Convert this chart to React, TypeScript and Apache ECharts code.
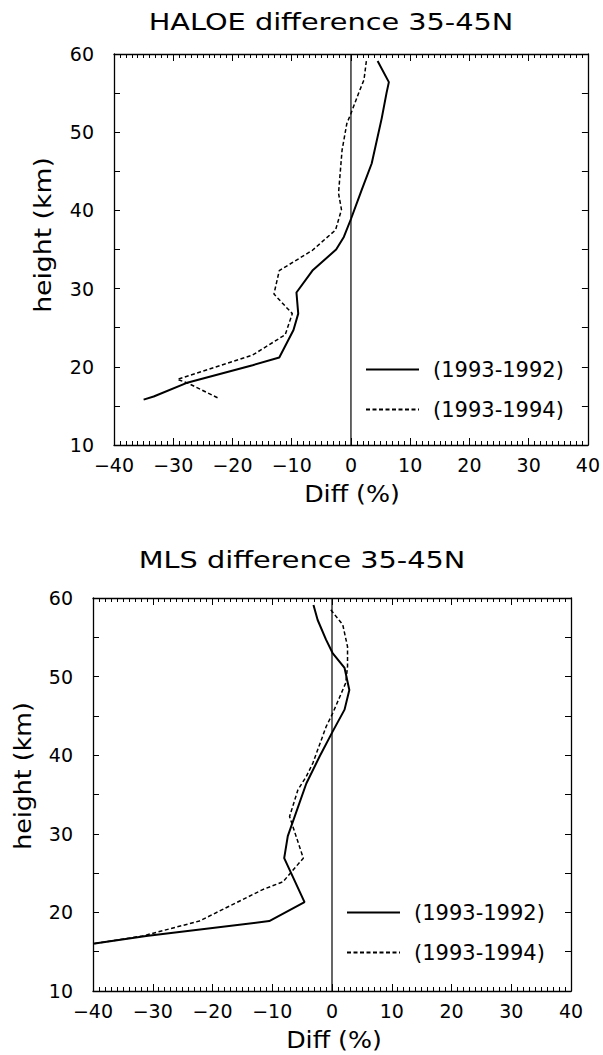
import React, { useEffect, useRef } from "react";
import * as echarts from "echarts";

// ---- data ----
const xTicks = [-40, -30, -20, -10, 0, 10, 20, 30, 40];
const heightTicks = [10, 20, 30, 40, 50, 60];
const seriesNames = ["(1993-1992)", "(1993-1994)"];
const titles = ["HALOE difference 35-45N", "MLS difference 35-45N"];
const xName = "Diff (%)";
const yName = "height (km)";

// HALOE, 1993-1992
const haloeDiffA = [4.5, 6.4, 6.0, 5.2, 3.5, 1.8, 0, -1.2, -2.5, -6.5, -9.2, -8.9, -9.7, -12.1, -16.6, -27.5, -33.3, -35.0];
const haloeHgtA = [59.1, 56.4, 55.0, 51.8, 46.0, 42.6, 38.9, 36.6, 35.0, 32.3, 29.5, 26.8, 24.7, 21.2, 20.2, 18.0, 16.2, 15.8];
// HALOE, 1993-1994
const haloeDiffB = [2.6, 2.2, 1.3, 0, -0.7, -1.5, -2.1, -1.6, -2.6, -3.2, -6.5, -12.1, -13.0, -9.9, -11.1, -16.6, -29.3, -27.5, -22.4];
const haloeHgtB = [59.1, 56.7, 55.0, 52.4, 51.1, 47.7, 42.2, 40.1, 37.5, 37.1, 34.9, 32.3, 29.3, 26.8, 24.1, 21.5, 18.4, 17.9, 16.0];
// MLS, 1993-1992
const mlsDiffA = [-3.1, -2.4, -1.0, 0.1, 2.1, 2.9, 2.1, 0.1, -2.1, -4.3, -7.4, -8.0, -4.6, -10.5, -31.1, -40.0];
const mlsHgtA = [59.1, 57.2, 54.7, 53.0, 51.1, 48.3, 45.8, 43.0, 39.8, 36.4, 29.7, 26.9, 21.3, 18.9, 17.0, 16.0];
// MLS, 1993-1994
const mlsDiffB = [-0.2, 1.8, 2.6, 2.6, 2.3, 0.1, -1.0, -3.2, -4.3, -5.7, -7.1, -4.8, -8.2, -11.6, -22.2, -31.7, -40.0];
const mlsHgtB = [58.5, 56.6, 53.8, 51.3, 49.2, 45.3, 43.6, 39.0, 37.3, 35.6, 32.2, 26.9, 23.9, 22.9, 18.9, 17.0, 16.0];
// zero reference line
const zeroDiff = [0, 0];
const zeroHgt = [10, 60];

const FONT = "DejaVu Sans";
const pairs = (xs: number[], ys: number[]) => xs.map((v, i) => [v, ys[i]]);
const minusFmt = (v: number) => (v < 0 ? "\u2212" + Math.abs(v) : String(v));

export default function App() {
  const ref = useRef<HTMLDivElement>(null);
  useEffect(() => {
    if (!ref.current) return;
    const chart = echarts.init(ref.current, null, { renderer: "svg", width: 603, height: 1055 });

    const grids = [
      { left: 114, top: 54, width: 478, height: 391 },
      { left: 93, top: 598, width: 478, height: 393 },
    ];
    const lineAxis = { show: true, onZero: false, lineStyle: { color: "#000", width: 1.3 } };
    const xMin = xTicks[0], xMax = xTicks[xTicks.length - 1];
    const yMin = heightTicks[0], yMax = heightTicks[heightTicks.length - 1];

    const xAxes: any[] = [];
    const yAxes: any[] = [];
    [0, 1].forEach((g) => {
      xAxes.push({
        type: "value", gridIndex: g, position: "bottom", min: xMin, max: xMax, interval: 10,
        axisLine: lineAxis,
        axisTick: { show: true, inside: true, length: 7, lineStyle: { color: "#000", width: 1 } },
        minorTick: { show: true, splitNumber: 10, length: 4, lineStyle: { color: "#000", width: 1 } },
        splitLine: { show: false },
        axisLabel: { show: true, formatter: minusFmt, color: "#000", fontFamily: FONT, fontSize: 19, margin: 10 },
      });
      xAxes.push({
        type: "value", gridIndex: g, position: "top", min: xMin, max: xMax, interval: 10,
        axisLine: lineAxis,
        axisTick: { show: true, inside: true, length: 7, lineStyle: { color: "#000", width: 1 } },
        minorTick: { show: true, splitNumber: 10, length: 4, lineStyle: { color: "#000", width: 1 } },
        splitLine: { show: false },
        axisLabel: { show: false },
      });
      yAxes.push({
        type: "value", gridIndex: g, position: "left", min: yMin, max: yMax, interval: 5,
        axisLine: lineAxis,
        axisTick: { show: true, inside: true, length: 6, lineStyle: { color: "#000", width: 1 } },
        splitLine: { show: false },
        axisLabel: {
          show: true, color: "#000", fontFamily: FONT, fontSize: 19, margin: 20,
          formatter: (v: number) => (heightTicks.includes(v) ? String(v) : ""),
        },
      });
      yAxes.push({
        type: "value", gridIndex: g, position: "right", min: yMin, max: yMax, interval: 5,
        axisLine: lineAxis,
        axisTick: { show: true, inside: true, length: 6, lineStyle: { color: "#000", width: 1 } },
        splitLine: { show: false },
        axisLabel: { show: false },
      });
    });

    const solid = { color: "#000", width: 2, type: "solid" };
    const dashed = { color: "#000", width: 1.5, type: [4, 2.5] };
    const mk = (name: string, data: number[][], g: number, ls: any) => ({
      type: "line", name, data, xAxisIndex: g * 2, yAxisIndex: g * 2,
      showSymbol: false, symbol: "none", lineStyle: ls, itemStyle: { color: "#000" },
      silent: true, z: 3,
    });

    const series: any[] = [
      mk(seriesNames[0], pairs(haloeDiffA, haloeHgtA), 0, solid),
      mk(seriesNames[1], pairs(haloeDiffB, haloeHgtB), 0, dashed),
      mk(seriesNames[0], pairs(mlsDiffA, mlsHgtA), 1, solid),
      mk(seriesNames[1], pairs(mlsDiffB, mlsHgtB), 1, dashed),
      { ...mk("zero0", pairs(zeroDiff, zeroHgt), 0, { color: "#000", width: 1.2 }), z: 2 },
      { ...mk("zero1", pairs(zeroDiff, zeroHgt), 1, { color: "#000", width: 1.2 }), z: 2 },
    ];

    const legendBase = {
      orient: "vertical", data: seriesNames, itemWidth: 53, itemHeight: 20, itemGap: 19, padding: 0,
      selectedMode: false,
      itemStyle: { opacity: 0, borderWidth: 0 },
      textStyle: { fontFamily: FONT, fontSize: 21, color: "#000", lineHeight: 20, padding: [0, 0, 0, 9] },
    };

    const txt = (text: string, x: number, y: number, size: number, sx: number, rot = 0) => ({
      type: "text", x, y, rotation: rot, scaleX: sx, silent: true,
      style: {
        text, fill: "#000", font: `${size}px "${FONT}"`, fontFamily: FONT, fontSize: size,
        align: "center", verticalAlign: "middle", textAlign: "center", textVerticalAlign: "middle",
      },
    });

    chart.setOption({
      animation: false,
      backgroundColor: "#fff",
      grid: grids,
      xAxis: xAxes,
      yAxis: yAxes,
      series,
      legend: [
        { ...legendBase, left: 365, top: 359 },
        { ...legendBase, left: 346, top: 902 },
      ],
      graphic: [
        txt(titles[0], 331, 22, 23, 1.25),
        txt(titles[1], 302, 560, 23, 1.25),
        txt(xName, 352, 494, 23, 1.1),
        txt(xName, 334, 1040, 23, 1.1),
        txt(yName, 43, 235, 23, 1.16, Math.PI / 2),
        txt(yName, 23, 776, 23, 1.1, Math.PI / 2),
      ],
    });
    return () => chart.dispose();
  }, []);
  return <div ref={ref} style={{ position: "absolute", left: 0, top: 0, width: 603, height: 1055 }} />;
}
